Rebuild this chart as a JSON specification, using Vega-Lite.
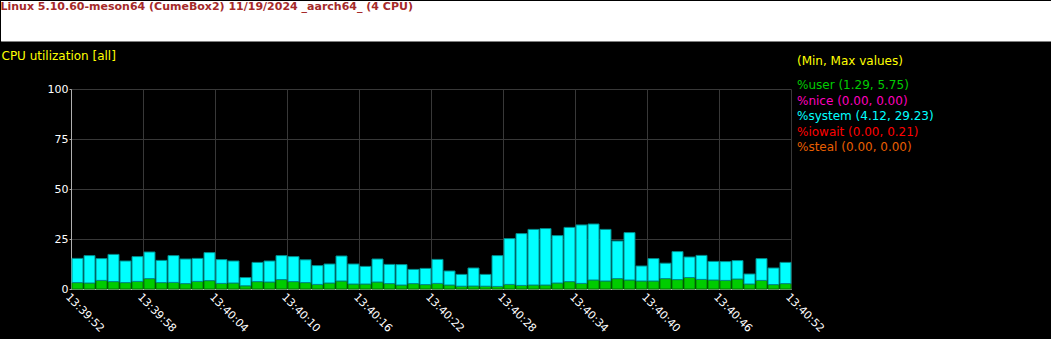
{
  "$schema": "https://vega.github.io/schema/vega-lite/v6.json",
  "background": "#000000",
  "padding": {"left": 0, "top": 0, "right": 0, "bottom": 5},
  "title": {
    "text": "Linux 5.10.60-meson64 (CumeBox2) 11/19/2024 _aarch64_ (4 CPU)",
    "anchor": "start",
    "frame": "bounds",
    "offset": -11,
    "color": "#a52a2a",
    "font": "DejaVu Sans",
    "fontSize": 11,
    "fontWeight": "bold"
  },
  "columns": 1,
  "align": "none",
  "spacing": 7,
  "config": {"font": "DejaVu Sans", "view": {"stroke": null}},
  "datasets": {
    "cpu": [
      {"t": "2024-11-19T13:39:52", "user": 3.2, "system": 12.1},
      {"t": "2024-11-19T13:39:53", "user": 3.0, "system": 13.7},
      {"t": "2024-11-19T13:39:54", "user": 4.3, "system": 10.9},
      {"t": "2024-11-19T13:39:55", "user": 3.7, "system": 13.6},
      {"t": "2024-11-19T13:39:56", "user": 3.2, "system": 10.8},
      {"t": "2024-11-19T13:39:57", "user": 3.8, "system": 12.4},
      {"t": "2024-11-19T13:39:58", "user": 5.2, "system": 13.3},
      {"t": "2024-11-19T13:39:59", "user": 3.2, "system": 11.1},
      {"t": "2024-11-19T13:40:00", "user": 3.3, "system": 13.4},
      {"t": "2024-11-19T13:40:01", "user": 2.7, "system": 12.3},
      {"t": "2024-11-19T13:40:02", "user": 3.8, "system": 11.5},
      {"t": "2024-11-19T13:40:03", "user": 4.2, "system": 14.0},
      {"t": "2024-11-19T13:40:04", "user": 2.8, "system": 11.9},
      {"t": "2024-11-19T13:40:05", "user": 3.0, "system": 11.0},
      {"t": "2024-11-19T13:40:06", "user": 1.6, "system": 4.12},
      {"t": "2024-11-19T13:40:07", "user": 3.7, "system": 9.6},
      {"t": "2024-11-19T13:40:08", "user": 3.5, "system": 10.5},
      {"t": "2024-11-19T13:40:09", "user": 4.7, "system": 12.0},
      {"t": "2024-11-19T13:40:10", "user": 3.7, "system": 12.5},
      {"t": "2024-11-19T13:40:11", "user": 3.2, "system": 11.4},
      {"t": "2024-11-19T13:40:12", "user": 2.3, "system": 9.4},
      {"t": "2024-11-19T13:40:13", "user": 3.0, "system": 9.5},
      {"t": "2024-11-19T13:40:14", "user": 4.0, "system": 12.5},
      {"t": "2024-11-19T13:40:15", "user": 2.5, "system": 10.0},
      {"t": "2024-11-19T13:40:16", "user": 2.5, "system": 8.8},
      {"t": "2024-11-19T13:40:17", "user": 3.5, "system": 11.5},
      {"t": "2024-11-19T13:40:18", "user": 2.7, "system": 9.6},
      {"t": "2024-11-19T13:40:19", "user": 2.0, "system": 10.2},
      {"t": "2024-11-19T13:40:20", "user": 2.7, "system": 7.1},
      {"t": "2024-11-19T13:40:21", "user": 2.2, "system": 8.1},
      {"t": "2024-11-19T13:40:22", "user": 2.8, "system": 12.0},
      {"t": "2024-11-19T13:40:23", "user": 2.0, "system": 7.0},
      {"t": "2024-11-19T13:40:24", "user": 1.4, "system": 5.9},
      {"t": "2024-11-19T13:40:25", "user": 1.5, "system": 9.0},
      {"t": "2024-11-19T13:40:26", "user": 1.4, "system": 5.9},
      {"t": "2024-11-19T13:40:27", "user": 1.29, "system": 15.4},
      {"t": "2024-11-19T13:40:28", "user": 2.3, "system": 22.9},
      {"t": "2024-11-19T13:40:29", "user": 1.8, "system": 25.9},
      {"t": "2024-11-19T13:40:30", "user": 2.0, "system": 27.8},
      {"t": "2024-11-19T13:40:31", "user": 2.0, "system": 28.2},
      {"t": "2024-11-19T13:40:32", "user": 3.0, "system": 23.7},
      {"t": "2024-11-19T13:40:33", "user": 3.7, "system": 27.1},
      {"t": "2024-11-19T13:40:34", "user": 2.8, "system": 29.23},
      {"t": "2024-11-19T13:40:35", "user": 4.5, "system": 28.0},
      {"t": "2024-11-19T13:40:36", "user": 4.0, "system": 25.8},
      {"t": "2024-11-19T13:40:37", "user": 5.2, "system": 18.8},
      {"t": "2024-11-19T13:40:38", "user": 4.5, "system": 23.7},
      {"t": "2024-11-19T13:40:39", "user": 4.0, "system": 7.5},
      {"t": "2024-11-19T13:40:40", "user": 4.0, "system": 11.2},
      {"t": "2024-11-19T13:40:41", "user": 5.2, "system": 7.7},
      {"t": "2024-11-19T13:40:42", "user": 4.7, "system": 14.0},
      {"t": "2024-11-19T13:40:43", "user": 5.75, "system": 10.25},
      {"t": "2024-11-19T13:40:44", "user": 4.8, "system": 12.0},
      {"t": "2024-11-19T13:40:45", "user": 4.5, "system": 9.3},
      {"t": "2024-11-19T13:40:46", "user": 4.3, "system": 9.4},
      {"t": "2024-11-19T13:40:47", "user": 5.0, "system": 9.2},
      {"t": "2024-11-19T13:40:48", "user": 2.5, "system": 5.0},
      {"t": "2024-11-19T13:40:49", "user": 4.3, "system": 10.9},
      {"t": "2024-11-19T13:40:50", "user": 2.2, "system": 8.3},
      {"t": "2024-11-19T13:40:51", "user": 2.7, "system": 10.6}
    ]
  },
  "concat": [
    {
      "width": 1051,
      "height": 40,
      "view": {"fill": "#ffffff", "stroke": "#808080"},
      "data": {"values": [{"h": 1}]},
      "mark": {"type": "rect", "color": "#ffffff"},
      "encoding": {}
    },
    {
      "width": 790,
      "height": 200,
      "data": {"name": "cpu"},
      "transform": [{"fold": ["user", "system"], "as": ["metric", "value"]}],
      "mark": {"type": "bar", "strokeWidth": 1},
      "encoding": {
        "x": {
          "field": "t",
          "type": "temporal",
          "timeUnit": "yearmonthdatehoursminutesseconds",
          "scale": {
            "domain": [
              {"year": 2024, "month": 11, "date": 19, "hours": 13, "minutes": 39, "seconds": 52},
              {"year": 2024, "month": 11, "date": 19, "hours": 13, "minutes": 40, "seconds": 52}
            ],
            "range": [70, 790],
            "nice": false
          },
          "axis": {
            "title": null,
            "values": [
              {"year": 2024, "month": 11, "date": 19, "hours": 13, "minutes": 39, "seconds": 52},
              {"year": 2024, "month": 11, "date": 19, "hours": 13, "minutes": 39, "seconds": 58},
              {"year": 2024, "month": 11, "date": 19, "hours": 13, "minutes": 40, "seconds": 4},
              {"year": 2024, "month": 11, "date": 19, "hours": 13, "minutes": 40, "seconds": 10},
              {"year": 2024, "month": 11, "date": 19, "hours": 13, "minutes": 40, "seconds": 16},
              {"year": 2024, "month": 11, "date": 19, "hours": 13, "minutes": 40, "seconds": 22},
              {"year": 2024, "month": 11, "date": 19, "hours": 13, "minutes": 40, "seconds": 28},
              {"year": 2024, "month": 11, "date": 19, "hours": 13, "minutes": 40, "seconds": 34},
              {"year": 2024, "month": 11, "date": 19, "hours": 13, "minutes": 40, "seconds": 40},
              {"year": 2024, "month": 11, "date": 19, "hours": 13, "minutes": 40, "seconds": 46},
              {"year": 2024, "month": 11, "date": 19, "hours": 13, "minutes": 40, "seconds": 52}
            ],
            "format": "%H:%M:%S",
            "labelAngle": 45,
            "labelAlign": "left",
            "labelBaseline": "top",
            "labelPadding": 2,
            "labelFlush": false,
            "labelOverlap": false,
            "labelColor": "#ffffff",
            "labelFont": "DejaVu Sans",
            "labelFontSize": 11,
            "ticks": false,
            "grid": true,
            "gridColor": "#383838",
            "domainColor": "#b0b0b0"
          }
        },
        "y": {
          "field": "value",
          "type": "quantitative",
          "stack": "zero",
          "scale": {"domain": [0, 100], "nice": false},
          "axis": {
            "offset": -70,
            "values": [0, 25, 50, 75, 100],
            "grid": true,
            "gridColor": "#383838",
            "domainColor": "#b0b0b0",
            "tickSize": 2,
            "tickColor": "#b0b0b0",
            "labelPadding": 1,
            "labelColor": "#ffffff",
            "labelFont": "DejaVu Sans",
            "labelFontSize": 11,
            "title": "CPU utilization [all]",
            "titleAngle": 0,
            "titleAlign": "left",
            "titleBaseline": "middle",
            "titleX": -70,
            "titleY": -34,
            "titleColor": "#ffff00",
            "titleFont": "DejaVu Sans",
            "titleFontSize": 12,
            "titleFontWeight": "normal"
          }
        },
        "stroke": {
          "field": "metric",
          "type": "nominal",
          "scale": {"domain": ["user", "system"], "range": ["#007a00", "#008a8a"]},
          "legend": null
        },
        "color": {
          "field": "metric",
          "type": "nominal",
          "scale": {
            "domain": ["user", "nice", "system", "iowait", "steal"],
            "range": ["#00cc00", "#ff00bf", "#00ffff", "#ff0000", "#e85f00"]
          },
          "legend": {
            "orient": "none",
            "legendX": 796,
            "legendY": 55,
            "title": "(Min, Max values)",
            "titleColor": "#ffff00",
            "titleFont": "DejaVu Sans",
            "titleFontSize": 12,
            "titleFontWeight": "normal",
            "titlePadding": 11.3,
            "symbolSize": 1,
            "symbolOpacity": 0,
            "symbolStrokeWidth": 0,
            "labelOffset": -12,
            "labelFont": "DejaVu Sans",
            "labelFontSize": 12,
            "labelLimit": 400,
            "rowPadding": 3.4,
            "labelExpr": "datum.value === 'user' ? '%user (1.29, 5.75)' : datum.value === 'nice' ? '%nice (0.00, 0.00)' : datum.value === 'system' ? '%system (4.12, 29.23)' : datum.value === 'iowait' ? '%iowait (0.00, 0.21)' : '%steal (0.00, 0.00)'",
            "encode": {"labels": {"update": {"fill": {"scale": "color", "field": "value"}}}}
          }
        }
      }
    }
  ]
}
